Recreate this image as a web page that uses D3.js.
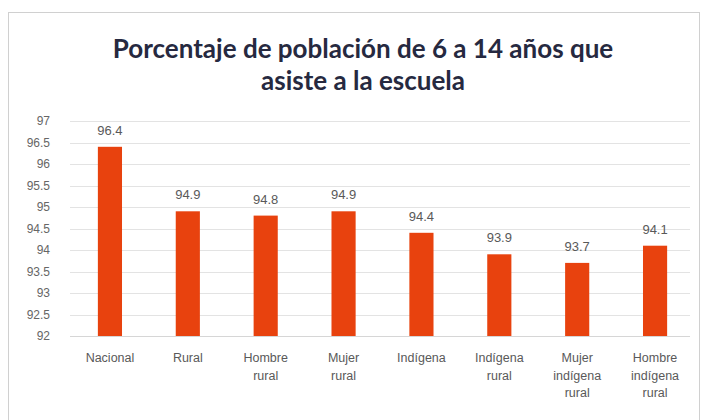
<!DOCTYPE html>
<html>
<head>
<meta charset="utf-8">
<script src="https://cdn.jsdelivr.net/npm/d3@7"></script>
<style>
  body { margin: 0; background: #fff; }
  svg { display: block; }
</style>
</head>
<body>
<div id="chart"></div>
<script>
// categories (split into lines as in the original axis)
const categories = [
  ['Nacional'],
  ['Rural'],
  ['Hombre', 'rural'],
  ['Mujer', 'rural'],
  ['Indígena'],
  ['Indígena', 'rural'],
  ['Mujer', 'indígena', 'rural'],
  ['Hombre', 'indígena', 'rural']
];
const values = [96.4, 94.9, 94.8, 94.9, 94.4, 93.9, 93.7, 94.1];
const yTicks = [92, 92.5, 93, 93.5, 94, 94.5, 95, 95.5, 96, 96.5, 97];
const titleLines = ['Porcentaje de población de 6 a 14 años que', 'asiste a la escuela'];

const width = 704, height = 420;
const margin = { top: 121, right: 10, bottom: 84, left: 71 };

const svg = d3.select('#chart').append('svg')
  .attr('width', width)
  .attr('height', height);

// chart border
svg.append('rect')
  .attr('x', 8.5).attr('y', 12.5)
  .attr('width', 691).attr('height', 420)
  .attr('fill', '#fff')
  .attr('stroke', '#d0d0d0');

const x = d3.scaleBand()
  .domain(d3.range(values.length))
  .range([margin.left, 694])
  .paddingInner(0.69)
  .paddingOuter(0.345);

const y = d3.scaleLinear()
  .domain([92, 97])
  .range([height - margin.bottom, margin.top]);

// title
svg.append('text')
  .attr('text-anchor', 'middle')
  .attr('font-family', 'Lato, "Open Sans", sans-serif')
  .attr('font-weight', 'bold')
  .attr('font-size', 26)
  .attr('fill', '#262940')
  .selectAll('tspan')
  .data(titleLines)
  .join('tspan')
    .attr('x', 363)
    .attr('y', (d, i) => 58 + i * 32)
    .text(d => d);

// gridlines
svg.append('g')
  .selectAll('line')
  .data(yTicks.filter(t => t > 92))
  .join('line')
    .attr('x1', 70).attr('x2', 690)
    .attr('y1', d => Math.round(y(d)) + 0.5)
    .attr('y2', d => Math.round(y(d)) + 0.5)
    .attr('stroke', '#e3e3e3');

// y axis labels
const yAxis = svg.append('g')
  .attr('transform', `translate(${margin.left}, 0)`)
  .call(d3.axisLeft(y).tickValues(yTicks).tickSize(0).tickPadding(21).tickFormat(d => d));
yAxis.select('.domain').remove();
yAxis.selectAll('text')
  .attr('font-family', '"Liberation Sans", Arial, sans-serif')
  .attr('font-size', 12)
  .attr('fill', '#666');

// bars
svg.append('g')
  .attr('fill', '#e8420e')
  .selectAll('rect')
  .data(values)
  .join('rect')
    .attr('x', (d, i) => x(i))
    .attr('y', d => y(d))
    .attr('width', x.bandwidth())
    .attr('height', d => y(92) - y(d));

// value labels
svg.append('g')
  .selectAll('text')
  .data(values)
  .join('text')
    .attr('x', (d, i) => x(i) + x.bandwidth() / 2)
    .attr('y', d => y(d) - 12)
    .attr('text-anchor', 'middle')
    .attr('font-family', '"Liberation Sans", Arial, sans-serif')
    .attr('font-size', 13)
    .attr('fill', '#595959')
    .text(d => d.toFixed(1));

// x axis
const xAxis = svg.append('g')
  .attr('transform', `translate(0, ${height - margin.bottom})`)
  .call(d3.axisBottom(x).tickSize(0).tickFormat(''));
xAxis.select('.domain')
  .attr('stroke', '#d6d6d6')
  .attr('d', `M70,0.5H690`);

xAxis.selectAll('.tick').each(function (d) {
  const t = d3.select(this).append('text')
    .attr('text-anchor', 'middle')
    .attr('font-family', '"Liberation Sans", Arial, sans-serif')
    .attr('font-size', 12.5)
    .attr('fill', '#595959');
  t.selectAll('tspan')
    .data(categories[d])
    .join('tspan')
      .attr('x', 0)
      .attr('y', (s, j) => 26 + j * 17.5)
      .text(s => s);
});
</script>
</body>
</html>
